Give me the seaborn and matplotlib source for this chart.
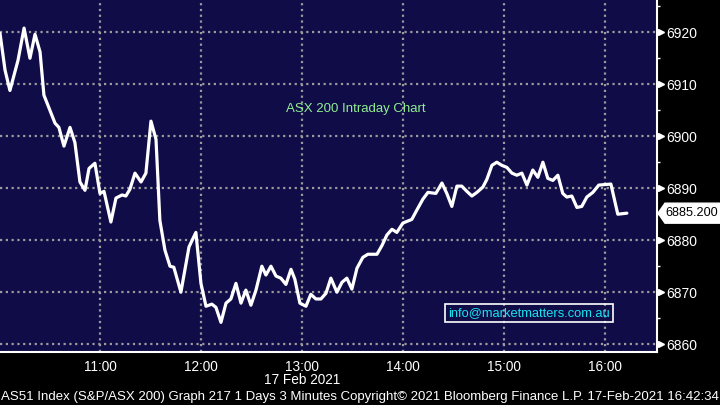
import pandas as pd
import seaborn as sns
import matplotlib.pyplot as plt
import matplotlib.transforms as mtransforms
from matplotlib.patches import Polygon
from matplotlib.ticker import FixedLocator, MultipleLocator

# minutes after 10:00, 17 Feb 2021
minutes = [0.6, 3.6, 6.5, 11.3, 14.9, 18.4, 21.4, 24.4, 26.7, 33.3, 35.6, 38.6,
           42.2, 45.1, 48.1, 51.1, 53.5, 57.0, 60.0, 62.4, 66.5, 69.5, 73.1, 75.4,
           77.8, 80.8, 84.4, 87.3, 90.3, 93.3, 95.6, 98.6, 101.6, 103.9, 108.1, 112.9,
           117.0, 120.0, 123.0, 126.5, 128.9, 131.9, 134.9, 137.8, 140.8, 143.8, 146.7, 149.7,
           152.7, 156.2, 158.6, 161.6, 164.6, 167.5, 170.5, 173.5, 175.8, 178.8, 182.4, 185.3,
           188.3, 191.3, 194.3, 197.2, 200.8, 203.8, 206.7, 209.7, 212.7, 216.2, 219.2, 224.6,
           227.6, 230.5, 233.5, 236.4, 240.0, 245.3, 248.3, 251.9, 254.9, 259.6, 263.2, 266.1,
           269.1, 272.1, 275.0, 278.0, 281.0, 284.0, 287.5, 289.9, 292.9, 295.8, 298.8, 301.8,
           304.8, 307.7, 310.7, 313.7, 317.2, 320.2, 323.2, 326.1, 329.1, 332.1, 335.0, 337.4,
           340.4, 343.4, 346.3, 349.3, 352.9, 356.4, 363.6, 367.7, 373.1]
prices = [6919.8, 6912.7, 6908.8, 6914.6, 6920.8, 6915.0, 6919.6, 6916.2, 6907.9, 6902.5, 6901.7, 6898.1,
          6901.7, 6898.8, 6891.2, 6889.6, 6893.8, 6894.8, 6889.0, 6889.4, 6883.5, 6888.1, 6888.7, 6888.5,
          6889.8, 6892.9, 6891.2, 6892.9, 6902.9, 6899.4, 6883.8, 6878.1, 6875.0, 6874.8, 6870.0, 6878.7,
          6881.5, 6871.7, 6867.3, 6867.7, 6867.1, 6864.2, 6867.9, 6868.7, 6871.7, 6867.9, 6870.4, 6867.5,
          6870.4, 6875.0, 6873.3, 6875.0, 6873.1, 6872.7, 6871.5, 6874.4, 6872.5, 6867.9, 6867.3, 6869.6,
          6868.7, 6868.7, 6869.8, 6872.7, 6870.0, 6871.9, 6872.7, 6870.6, 6874.6, 6876.7, 6877.3, 6877.3,
          6879.0, 6881.0, 6882.1, 6881.5, 6883.3, 6884.0, 6885.8, 6887.9, 6889.2, 6889.0, 6891.0, 6889.0,
          6886.5, 6890.4, 6890.4, 6889.4, 6888.5, 6889.2, 6890.2, 6891.7, 6894.4, 6895.0, 6894.4, 6894.0,
          6892.9, 6892.5, 6892.9, 6890.6, 6893.5, 6892.1, 6895.0, 6891.9, 6891.5, 6892.5, 6889.0, 6888.3,
          6888.5, 6886.3, 6886.5, 6888.3, 6889.2, 6890.6, 6890.8, 6885.0, 6885.2]
hour_ticks = [60, 120, 180, 240, 300, 360]
hour_labels = ["11:00", "12:00", "13:00", "14:00", "15:00", "16:00"]
price_ticks = [6860, 6870, 6880, 6890, 6900, 6910, 6920]
last_label = "6885.200"

df = pd.DataFrame({"minute": minutes, "price": prices})

sns.set_style("dark")
plt.rcParams['font.family'] = ['Liberation Sans', 'DejaVu Sans']

fig = plt.figure(figsize=(7.2, 4.05), dpi=100, facecolor='black')
ax = fig.add_axes([0, 1 - 352 / 405, 657 / 720, 352 / 405])
ax.set_facecolor('#0f0c48')

sns.lineplot(data=df, x="minute", y="price", color='white', lw=2.3, ax=ax)

ax.set_xlim(0.6, 391)
ax.set_ylim(6858.5, 6926.2)
ax.set_xlabel("")
ax.set_ylabel("")

# axes / ticks
for s in ['left', 'top']:
    ax.spines[s].set_visible(False)
for s in ['right', 'bottom']:
    ax.spines[s].set_color('white')
    ax.spines[s].set_linewidth(1.5)

ax.yaxis.tick_right()
ax.yaxis.set_major_locator(FixedLocator(price_ticks))
ax.yaxis.set_minor_locator(MultipleLocator(5))
ax.tick_params(axis='y', which='major', length=0, pad=7, labelcolor='white', labelsize=10)
ax.tick_params(axis='y', which='minor', length=2.5, width=1, color='white', direction='out')

ax.xaxis.set_major_locator(FixedLocator(hour_ticks))
ax.set_xticklabels(hour_labels)
ax.xaxis.set_minor_locator(MultipleLocator(30))
ax.tick_params(axis='x', which='both', length=3.5, width=1, color='white', direction='out',
               pad=2, labelcolor='white', labelsize=9.8)

ax.grid(True, which='major', color='#9a9a9a', ls=(0, (1, 1.6)), lw=1.6)

# triangle markers at major y ticks
trans = mtransforms.blended_transform_factory(ax.transAxes, ax.transData)
ax.plot([1.006] * len(price_ticks), price_ticks, ls='none', marker='>', ms=5,
        color='white', transform=trans, clip_on=False)

# texts
ax.text(0.542, 0.69, "ASX 200 Intraday Chart", transform=ax.transAxes, color='#90ee90',
        fontsize=9.5, ha='center', va='center')
ax.text(448 / 657, (352 - 313) / 352, "info@marketmatters.com.au", transform=ax.transAxes,
        color='#19e3f0', fontsize=9.3, ha='left', va='center',
        bbox=dict(boxstyle='square,pad=0.22', fc='none', ec='white', lw=1.2))

fig.text(302 / 720, 1 - 380 / 405, "17 Feb 2021", color='white', fontsize=9.8,
         ha='center', va='center')
fig.text(0.002, 1 - 397 / 405,
         "AS51 Index (S&P/ASX 200) Graph 217 1 Days 3 Minutes Copyright\u00a9 2021 Bloomberg Finance L.P. 17-Feb-2021 16:42:34",
         color='white', fontsize=9.5, ha='left', va='center')

# last price tag
fig.canvas.draw()
xs = ax.transAxes.transform((1, 0))[0]
yd = ax.transData.transform((0, prices[-1]))[1]
tag = Polygon([(xs + 1, yd), (xs + 8, yd + 10), (720, yd + 10), (720, yd - 10), (xs + 8, yd - 10)],
              closed=True, fc='white', ec='white', transform=mtransforms.IdentityTransform())
fig.patches.append(tag)
fig.text((xs + 8) / 720, yd / 405, last_label, color='black', fontsize=9.1,
         ha='left', va='center')

fig.savefig("out.png", dpi=100, facecolor='black')
